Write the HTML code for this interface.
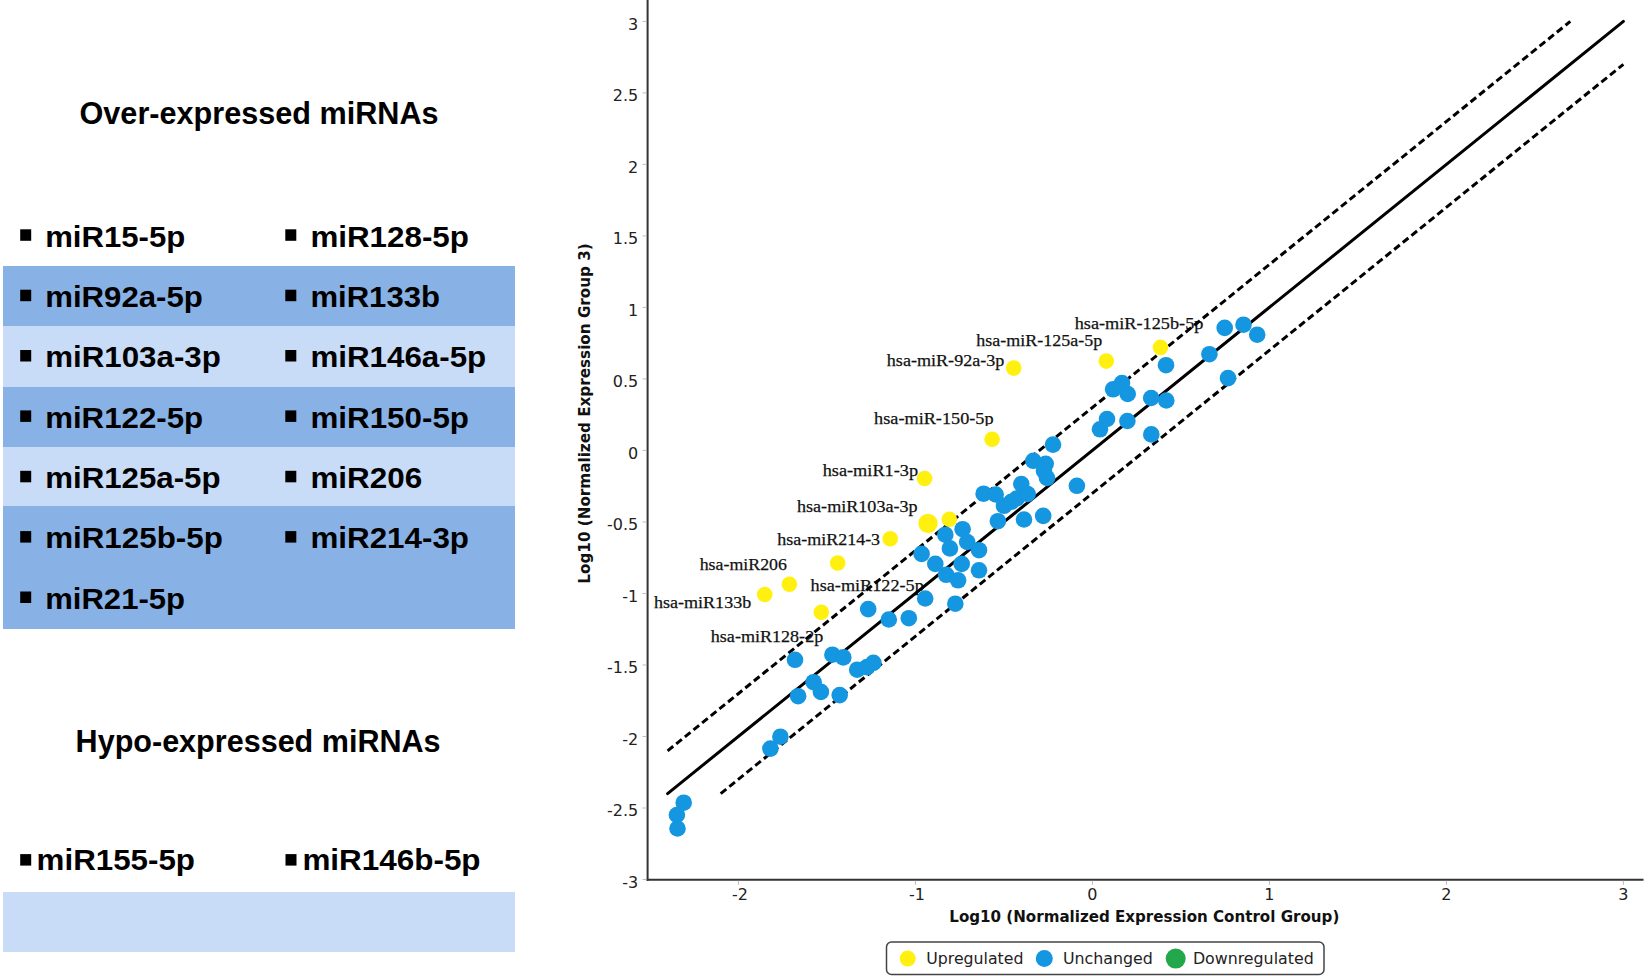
<!DOCTYPE html>
<html lang="en"><head><meta charset="utf-8"><title>miRNA expression scatter plot</title>
<style>html,body{margin:0;padding:0;background:#fff}body{width:1645px;height:978px;overflow:hidden}svg{display:block}</style>
</head><body>
<svg width="1645" height="978" viewBox="0 0 1645 978">
<rect width="1645" height="978" fill="#fff"/>
<g shape-rendering="crispEdges">
<rect x="2.6" y="265.6" width="512.2" height="60.4" fill="#88b2e6"/>
<rect x="2.6" y="326.0" width="512.2" height="60.5" fill="#c8dcf7"/>
<rect x="2.6" y="386.5" width="512.2" height="60.1" fill="#88b2e6"/>
<rect x="2.6" y="446.6" width="512.2" height="59.8" fill="#c8dcf7"/>
<rect x="2.6" y="506.4" width="512.2" height="122.1" fill="#88b2e6"/>
<rect x="2.6" y="891.8" width="512.2" height="60.0" fill="#c8dcf7"/>
</g>
<text x="79.5" y="124.3" font-family='"Liberation Sans", Arial, sans-serif' font-weight="700" font-size="31" textLength="359.1" lengthAdjust="spacingAndGlyphs" fill="#000">Over-expressed miRNAs</text>
<text x="75.6" y="752.2" font-family='"Liberation Sans", Arial, sans-serif' font-weight="700" font-size="31" textLength="365.0" lengthAdjust="spacingAndGlyphs" fill="#000">Hypo-expressed miRNAs</text>
<rect x="20.2" y="229.3" width="11" height="11.5" fill="#000"/>
<text x="45.2" y="246.6" font-family='"Liberation Sans", Arial, sans-serif' font-weight="700" font-size="29.5" textLength="140.0" lengthAdjust="spacingAndGlyphs" fill="#000">miR15-5p</text>
<rect x="285.3" y="229.3" width="11" height="11.5" fill="#000"/>
<text x="310.4" y="246.6" font-family='"Liberation Sans", Arial, sans-serif' font-weight="700" font-size="29.5" textLength="158.5" lengthAdjust="spacingAndGlyphs" fill="#000">miR128-5p</text>
<rect x="20.2" y="289.7" width="11" height="11.5" fill="#000"/>
<text x="45.2" y="307.0" font-family='"Liberation Sans", Arial, sans-serif' font-weight="700" font-size="29.5" textLength="157.7" lengthAdjust="spacingAndGlyphs" fill="#000">miR92a-5p</text>
<rect x="285.3" y="289.7" width="11" height="11.5" fill="#000"/>
<text x="310.4" y="307.0" font-family='"Liberation Sans", Arial, sans-serif' font-weight="700" font-size="29.5" textLength="129.6" lengthAdjust="spacingAndGlyphs" fill="#000">miR133b</text>
<rect x="20.2" y="350.0" width="11" height="11.5" fill="#000"/>
<text x="45.2" y="367.3" font-family='"Liberation Sans", Arial, sans-serif' font-weight="700" font-size="29.5" textLength="175.7" lengthAdjust="spacingAndGlyphs" fill="#000">miR103a-3p</text>
<rect x="285.3" y="350.0" width="11" height="11.5" fill="#000"/>
<text x="310.4" y="367.3" font-family='"Liberation Sans", Arial, sans-serif' font-weight="700" font-size="29.5" textLength="175.8" lengthAdjust="spacingAndGlyphs" fill="#000">miR146a-5p</text>
<rect x="20.2" y="410.4" width="11" height="11.5" fill="#000"/>
<text x="45.2" y="427.7" font-family='"Liberation Sans", Arial, sans-serif' font-weight="700" font-size="29.5" textLength="157.9" lengthAdjust="spacingAndGlyphs" fill="#000">miR122-5p</text>
<rect x="285.3" y="410.4" width="11" height="11.5" fill="#000"/>
<text x="310.4" y="427.7" font-family='"Liberation Sans", Arial, sans-serif' font-weight="700" font-size="29.5" textLength="158.6" lengthAdjust="spacingAndGlyphs" fill="#000">miR150-5p</text>
<rect x="20.2" y="470.8" width="11" height="11.5" fill="#000"/>
<text x="45.2" y="488.1" font-family='"Liberation Sans", Arial, sans-serif' font-weight="700" font-size="29.5" textLength="175.3" lengthAdjust="spacingAndGlyphs" fill="#000">miR125a-5p</text>
<rect x="285.3" y="470.8" width="11" height="11.5" fill="#000"/>
<text x="310.4" y="488.1" font-family='"Liberation Sans", Arial, sans-serif' font-weight="700" font-size="29.5" textLength="111.7" lengthAdjust="spacingAndGlyphs" fill="#000">miR206</text>
<rect x="20.2" y="531.1" width="11" height="11.5" fill="#000"/>
<text x="45.2" y="548.4" font-family='"Liberation Sans", Arial, sans-serif' font-weight="700" font-size="29.5" textLength="177.6" lengthAdjust="spacingAndGlyphs" fill="#000">miR125b-5p</text>
<rect x="285.3" y="531.1" width="11" height="11.5" fill="#000"/>
<text x="310.4" y="548.4" font-family='"Liberation Sans", Arial, sans-serif' font-weight="700" font-size="29.5" textLength="158.6" lengthAdjust="spacingAndGlyphs" fill="#000">miR214-3p</text>
<rect x="20.2" y="591.5" width="11" height="11.5" fill="#000"/>
<text x="45.2" y="608.8" font-family='"Liberation Sans", Arial, sans-serif' font-weight="700" font-size="29.5" textLength="139.8" lengthAdjust="spacingAndGlyphs" fill="#000">miR21-5p</text>
<rect x="20.2" y="854.1" width="11" height="11.5" fill="#000"/>
<text x="36.6" y="870.4" font-family='"Liberation Sans", Arial, sans-serif' font-weight="700" font-size="29.5" textLength="158.4" lengthAdjust="spacingAndGlyphs" fill="#000">miR155-5p</text>
<rect x="285.5" y="854.1" width="11" height="11.5" fill="#000"/>
<text x="302.4" y="870.4" font-family='"Liberation Sans", Arial, sans-serif' font-weight="700" font-size="29.5" textLength="178.2" lengthAdjust="spacingAndGlyphs" fill="#000">miR146b-5p</text>
<line x1="647.6" y1="0" x2="647.6" y2="880.8" stroke="#333" stroke-width="2"/>
<line x1="646.6" y1="879.8" x2="1643.5" y2="879.8" stroke="#333" stroke-width="2"/>
<line x1="642.6" y1="21.4" x2="646.6" y2="21.4" stroke="#bbb" stroke-width="1"/>
<text x="638.3" y="29.8" text-anchor="end" font-family='"DejaVu Sans", "Liberation Sans", sans-serif' font-size="16" fill="#222">3</text>
<line x1="642.6" y1="92.9" x2="646.6" y2="92.9" stroke="#bbb" stroke-width="1"/>
<text x="638.3" y="101.3" text-anchor="end" font-family='"DejaVu Sans", "Liberation Sans", sans-serif' font-size="16" fill="#222">2.5</text>
<line x1="642.6" y1="164.4" x2="646.6" y2="164.4" stroke="#bbb" stroke-width="1"/>
<text x="638.3" y="172.8" text-anchor="end" font-family='"DejaVu Sans", "Liberation Sans", sans-serif' font-size="16" fill="#222">2</text>
<line x1="642.6" y1="235.9" x2="646.6" y2="235.9" stroke="#bbb" stroke-width="1"/>
<text x="638.3" y="244.3" text-anchor="end" font-family='"DejaVu Sans", "Liberation Sans", sans-serif' font-size="16" fill="#222">1.5</text>
<line x1="642.6" y1="307.4" x2="646.6" y2="307.4" stroke="#bbb" stroke-width="1"/>
<text x="638.3" y="315.8" text-anchor="end" font-family='"DejaVu Sans", "Liberation Sans", sans-serif' font-size="16" fill="#222">1</text>
<line x1="642.6" y1="378.9" x2="646.6" y2="378.9" stroke="#bbb" stroke-width="1"/>
<text x="638.3" y="387.3" text-anchor="end" font-family='"DejaVu Sans", "Liberation Sans", sans-serif' font-size="16" fill="#222">0.5</text>
<line x1="642.6" y1="450.4" x2="646.6" y2="450.4" stroke="#bbb" stroke-width="1"/>
<text x="638.3" y="458.8" text-anchor="end" font-family='"DejaVu Sans", "Liberation Sans", sans-serif' font-size="16" fill="#222">0</text>
<line x1="642.6" y1="522.0" x2="646.6" y2="522.0" stroke="#bbb" stroke-width="1"/>
<text x="638.3" y="530.4" text-anchor="end" font-family='"DejaVu Sans", "Liberation Sans", sans-serif' font-size="16" fill="#222">-0.5</text>
<line x1="642.6" y1="593.5" x2="646.6" y2="593.5" stroke="#bbb" stroke-width="1"/>
<text x="638.3" y="601.9" text-anchor="end" font-family='"DejaVu Sans", "Liberation Sans", sans-serif' font-size="16" fill="#222">-1</text>
<line x1="642.6" y1="665.0" x2="646.6" y2="665.0" stroke="#bbb" stroke-width="1"/>
<text x="638.3" y="673.4" text-anchor="end" font-family='"DejaVu Sans", "Liberation Sans", sans-serif' font-size="16" fill="#222">-1.5</text>
<line x1="642.6" y1="736.5" x2="646.6" y2="736.5" stroke="#bbb" stroke-width="1"/>
<text x="638.3" y="744.9" text-anchor="end" font-family='"DejaVu Sans", "Liberation Sans", sans-serif' font-size="16" fill="#222">-2</text>
<line x1="642.6" y1="808.0" x2="646.6" y2="808.0" stroke="#bbb" stroke-width="1"/>
<text x="638.3" y="816.4" text-anchor="end" font-family='"DejaVu Sans", "Liberation Sans", sans-serif' font-size="16" fill="#222">-2.5</text>
<line x1="642.6" y1="879.5" x2="646.6" y2="879.5" stroke="#bbb" stroke-width="1"/>
<text x="638.3" y="887.9" text-anchor="end" font-family='"DejaVu Sans", "Liberation Sans", sans-serif' font-size="16" fill="#222">-3</text>
<line x1="738.4" y1="880.8" x2="738.4" y2="884.8" stroke="#bbb" stroke-width="1"/>
<text x="739.9" y="900.1" text-anchor="middle" font-family='"DejaVu Sans", "Liberation Sans", sans-serif' font-size="16" fill="#222">-2</text>
<line x1="915.4" y1="880.8" x2="915.4" y2="884.8" stroke="#bbb" stroke-width="1"/>
<text x="916.9" y="900.1" text-anchor="middle" font-family='"DejaVu Sans", "Liberation Sans", sans-serif' font-size="16" fill="#222">-1</text>
<line x1="1092.4" y1="880.8" x2="1092.4" y2="884.8" stroke="#bbb" stroke-width="1"/>
<text x="1092.4" y="900.1" text-anchor="middle" font-family='"DejaVu Sans", "Liberation Sans", sans-serif' font-size="16" fill="#222">0</text>
<line x1="1269.4" y1="880.8" x2="1269.4" y2="884.8" stroke="#bbb" stroke-width="1"/>
<text x="1269.4" y="900.1" text-anchor="middle" font-family='"DejaVu Sans", "Liberation Sans", sans-serif' font-size="16" fill="#222">1</text>
<line x1="1446.4" y1="880.8" x2="1446.4" y2="884.8" stroke="#bbb" stroke-width="1"/>
<text x="1446.4" y="900.1" text-anchor="middle" font-family='"DejaVu Sans", "Liberation Sans", sans-serif' font-size="16" fill="#222">2</text>
<line x1="1623.4" y1="880.8" x2="1623.4" y2="884.8" stroke="#bbb" stroke-width="1"/>
<text x="1623.4" y="900.1" text-anchor="middle" font-family='"DejaVu Sans", "Liberation Sans", sans-serif' font-size="16" fill="#222">3</text>
<text x="949.3" y="922.3" font-family='"DejaVu Sans Condensed", "DejaVu Sans", sans-serif' font-weight="700" font-size="16.7" textLength="390" lengthAdjust="spacingAndGlyphs" fill="#111">Log10 (Normalized Expression Control Group)</text>
<text transform="translate(590.2,583.7) rotate(-90)" font-family='"DejaVu Sans Condensed", "DejaVu Sans", sans-serif' font-weight="700" font-size="16.7" textLength="340.5" lengthAdjust="spacingAndGlyphs" fill="#111">Log10 (Normalized Expression Group 3)</text>
<defs><clipPath id="c150"><rect x="860" y="400" width="150" height="26"/></clipPath></defs>
<text x="1074.7" y="329.4" font-family='"Liberation Serif", "Times New Roman", serif' font-size="17.6" textLength="128.7" lengthAdjust="spacingAndGlyphs" fill="#111" stroke="#111" stroke-width="0.25">hsa-miR-125b-5p</text>
<text x="976.3" y="346.3" font-family='"Liberation Serif", "Times New Roman", serif' font-size="17.6" textLength="125.9" lengthAdjust="spacingAndGlyphs" fill="#111" stroke="#111" stroke-width="0.25">hsa-miR-125a-5p</text>
<text x="886.8" y="366.2" font-family='"Liberation Serif", "Times New Roman", serif' font-size="17.6" textLength="117.6" lengthAdjust="spacingAndGlyphs" fill="#111" stroke="#111" stroke-width="0.25">hsa-miR-92a-3p</text>
<text x="874.1" y="424.3" font-family='"Liberation Serif", "Times New Roman", serif' font-size="17.6" textLength="119.5" lengthAdjust="spacingAndGlyphs" fill="#111" stroke="#111" stroke-width="0.25" clip-path="url(#c150)">hsa-miR-150-5p</text>
<text x="822.7" y="475.8" font-family='"Liberation Serif", "Times New Roman", serif' font-size="17.6" textLength="95.4" lengthAdjust="spacingAndGlyphs" fill="#111" stroke="#111" stroke-width="0.25">hsa-miR1-3p</text>
<text x="797.0" y="511.5" font-family='"Liberation Serif", "Times New Roman", serif' font-size="17.6" textLength="120.6" lengthAdjust="spacingAndGlyphs" fill="#111" stroke="#111" stroke-width="0.25">hsa-miR103a-3p</text>
<text x="777.3" y="545.3" font-family='"Liberation Serif", "Times New Roman", serif' font-size="17.6" textLength="102.8" lengthAdjust="spacingAndGlyphs" fill="#111" stroke="#111" stroke-width="0.25">hsa-miR214-3</text>
<text x="699.7" y="570.3" font-family='"Liberation Serif", "Times New Roman", serif' font-size="17.6" textLength="87.2" lengthAdjust="spacingAndGlyphs" fill="#111" stroke="#111" stroke-width="0.25">hsa-miR206</text>
<text x="810.6" y="590.8" font-family='"Liberation Serif", "Times New Roman", serif' font-size="17.6" textLength="113.2" lengthAdjust="spacingAndGlyphs" fill="#111" stroke="#111" stroke-width="0.25">hsa-miR122-5p</text>
<text x="654.0" y="607.8" font-family='"Liberation Serif", "Times New Roman", serif' font-size="17.6" textLength="97.2" lengthAdjust="spacingAndGlyphs" fill="#111" stroke="#111" stroke-width="0.25">hsa-miR133b</text>
<text x="710.8" y="642.0" font-family='"Liberation Serif", "Times New Roman", serif' font-size="17.6" textLength="112.4" lengthAdjust="spacingAndGlyphs" fill="#111" stroke="#111" stroke-width="0.25">hsa-miR128-2p</text>
<line x1="667.6" y1="793.6" x2="1623.4" y2="21.4" stroke="#000" stroke-width="3" stroke-linecap="round"/>
<line x1="667.6" y1="750.8" x2="1570.3" y2="21.4" stroke="#000" stroke-width="3" stroke-dasharray="7.2 3.9"/>
<line x1="720.7" y1="793.6" x2="1623.4" y2="64.3" stroke="#000" stroke-width="3" stroke-dasharray="7.2 3.9"/>
<g fill="#fff010">
<circle cx="764.7" cy="594.5" r="7.8"/>
<circle cx="789.4" cy="584.3" r="7.8"/>
<circle cx="821.3" cy="612.2" r="7.8"/>
<circle cx="837.7" cy="563" r="7.8"/>
<circle cx="890.2" cy="538.7" r="7.8"/>
<circle cx="928" cy="523.4" r="9.6"/>
<circle cx="949.3" cy="519.3" r="7.8"/>
<circle cx="924.6" cy="478.5" r="7.8"/>
<circle cx="992.1" cy="439.3" r="7.8"/>
<circle cx="1013.7" cy="368.1" r="7.8"/>
<circle cx="1106.3" cy="361.1" r="7.8"/>
<circle cx="1160.5" cy="347.4" r="7.8"/>
</g>
<g fill="#1496e0">
<circle cx="683.7" cy="802.7" r="8.3"/>
<circle cx="676.9" cy="815" r="8.3"/>
<circle cx="677.5" cy="828.5" r="8.3"/>
<circle cx="770.4" cy="748.6" r="8.3"/>
<circle cx="780.4" cy="736.7" r="8.3"/>
<circle cx="795.0" cy="659.8" r="8.3"/>
<circle cx="798.1" cy="696.2" r="8.3"/>
<circle cx="813.6" cy="682.2" r="8.3"/>
<circle cx="820.9" cy="691.9" r="8.3"/>
<circle cx="839.7" cy="695.1" r="8.3"/>
<circle cx="832.4" cy="654.7" r="8.3"/>
<circle cx="843.3" cy="657.4" r="8.3"/>
<circle cx="857.2" cy="669.7" r="8.3"/>
<circle cx="867" cy="667.1" r="8.3"/>
<circle cx="873.4" cy="662.9" r="8.3"/>
<circle cx="868.2" cy="609.1" r="8.3"/>
<circle cx="888.8" cy="619.5" r="8.3"/>
<circle cx="908.8" cy="618.2" r="8.3"/>
<circle cx="925.2" cy="598.5" r="8.3"/>
<circle cx="955.3" cy="603.7" r="8.3"/>
<circle cx="921.6" cy="553.9" r="8.3"/>
<circle cx="935.3" cy="563.9" r="8.3"/>
<circle cx="946.2" cy="574.8" r="8.3"/>
<circle cx="958.1" cy="580.3" r="8.3"/>
<circle cx="961.7" cy="563.9" r="8.3"/>
<circle cx="979" cy="570.3" r="8.3"/>
<circle cx="945.3" cy="534.7" r="8.3"/>
<circle cx="949.9" cy="548.4" r="8.3"/>
<circle cx="962.6" cy="529.2" r="8.3"/>
<circle cx="967.2" cy="542" r="8.3"/>
<circle cx="979" cy="550.2" r="8.3"/>
<circle cx="983.6" cy="493.7" r="8.3"/>
<circle cx="995.7" cy="494.5" r="8.3"/>
<circle cx="997.9" cy="521.2" r="8.3"/>
<circle cx="1004" cy="505.8" r="8.3"/>
<circle cx="1011.3" cy="501.8" r="8.3"/>
<circle cx="1016.7" cy="498.5" r="8.3"/>
<circle cx="1021.3" cy="484" r="8.3"/>
<circle cx="1027.7" cy="494" r="8.3"/>
<circle cx="1024" cy="519.5" r="8.3"/>
<circle cx="1043.2" cy="515.9" r="8.3"/>
<circle cx="1033.4" cy="460.8" r="8.3"/>
<circle cx="1045.7" cy="463.8" r="8.3"/>
<circle cx="1044" cy="471" r="8.3"/>
<circle cx="1047" cy="478" r="8.3"/>
<circle cx="1053" cy="444.6" r="8.3"/>
<circle cx="1076.9" cy="485.8" r="8.3"/>
<circle cx="1100" cy="429.3" r="8.3"/>
<circle cx="1107" cy="419" r="8.3"/>
<circle cx="1113.1" cy="389.3" r="8.3"/>
<circle cx="1122" cy="383" r="8.3"/>
<circle cx="1127.7" cy="394" r="8.3"/>
<circle cx="1127.4" cy="421" r="8.3"/>
<circle cx="1151.2" cy="398" r="8.3"/>
<circle cx="1166.3" cy="400.5" r="8.3"/>
<circle cx="1151.3" cy="434.4" r="8.3"/>
<circle cx="1166" cy="365.2" r="8.3"/>
<circle cx="1209.4" cy="354.2" r="8.3"/>
<circle cx="1228" cy="378.1" r="8.3"/>
<circle cx="1224.7" cy="327.9" r="8.3"/>
<circle cx="1243.5" cy="324.7" r="8.3"/>
<circle cx="1257.2" cy="334.7" r="8.3"/>
</g>
<rect x="886.5" y="942" width="437.5" height="32.5" rx="5" ry="5" fill="#fff" stroke="#444" stroke-width="1.5"/>
<circle cx="907.7" cy="958.6" r="8" fill="#fff010"/>
<circle cx="1044.3" cy="958.6" r="8.5" fill="#1496e0"/>
<circle cx="1175.7" cy="958.6" r="10" fill="#22a84a"/>
<text x="926.3" y="964.3" font-family='"DejaVu Sans", "Liberation Sans", sans-serif' font-size="16" textLength="97.1" lengthAdjust="spacingAndGlyphs" fill="#222">Upregulated</text>
<text x="1062.9" y="964.3" font-family='"DejaVu Sans", "Liberation Sans", sans-serif' font-size="16" textLength="90.0" lengthAdjust="spacingAndGlyphs" fill="#222">Unchanged</text>
<text x="1192.9" y="964.3" font-family='"DejaVu Sans", "Liberation Sans", sans-serif' font-size="16" textLength="120.8" lengthAdjust="spacingAndGlyphs" fill="#222">Downregulated</text>
</svg>
</body></html>
